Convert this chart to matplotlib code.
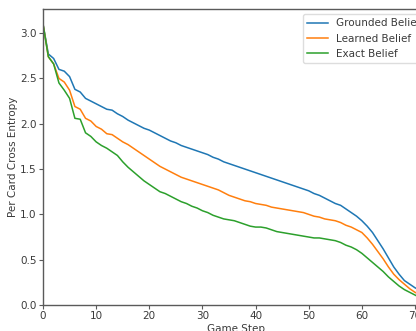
import matplotlib
matplotlib.use("Agg")
import matplotlib.pyplot as plt
import numpy as np

steps = np.arange(0, 73)

grounded = [3.10, 2.77, 2.72, 2.60, 2.58, 2.52, 2.38, 2.35, 2.28, 2.25,
            2.22, 2.19, 2.16, 2.15, 2.11, 2.08, 2.04, 2.01, 1.98, 1.95,
            1.93, 1.90, 1.87, 1.84, 1.81, 1.79, 1.76, 1.74, 1.72, 1.70,
            1.68, 1.66, 1.63, 1.61, 1.58, 1.56, 1.54, 1.52, 1.50, 1.48,
            1.46, 1.44, 1.42, 1.40, 1.38, 1.36, 1.34, 1.32, 1.30, 1.28,
            1.26, 1.23, 1.21, 1.18, 1.15, 1.12, 1.10, 1.06, 1.02, 0.98,
            0.93, 0.87, 0.80, 0.71, 0.62, 0.52, 0.42, 0.34, 0.27, 0.23,
            0.19, 0.16, 0.13]

learned = [3.10, 2.74, 2.66, 2.50, 2.46, 2.37, 2.19, 2.16, 2.06, 2.03,
           1.97, 1.94, 1.89, 1.88, 1.84, 1.80, 1.77, 1.73, 1.69, 1.65,
           1.61, 1.57, 1.53, 1.50, 1.47, 1.44, 1.41, 1.39, 1.37, 1.35,
           1.33, 1.31, 1.29, 1.27, 1.24, 1.21, 1.19, 1.17, 1.15, 1.14,
           1.12, 1.11, 1.10, 1.08, 1.07, 1.06, 1.05, 1.04, 1.03, 1.02,
           1.00, 0.98, 0.97, 0.95, 0.94, 0.93, 0.91, 0.88, 0.86, 0.83,
           0.80, 0.74, 0.67, 0.59, 0.51, 0.42, 0.34, 0.28, 0.23, 0.18,
           0.14, 0.11, 0.09]

exact = [3.10, 2.74, 2.66, 2.45, 2.37, 2.28, 2.06, 2.05, 1.90, 1.86,
         1.80, 1.76, 1.73, 1.69, 1.65, 1.58, 1.52, 1.47, 1.42, 1.37,
         1.33, 1.29, 1.25, 1.23, 1.20, 1.17, 1.14, 1.12, 1.09, 1.07,
         1.04, 1.02, 0.99, 0.97, 0.95, 0.94, 0.93, 0.91, 0.89, 0.87,
         0.86, 0.86, 0.85, 0.83, 0.81, 0.80, 0.79, 0.78, 0.77, 0.76,
         0.75, 0.74, 0.74, 0.73, 0.72, 0.71, 0.69, 0.66, 0.64, 0.61,
         0.57, 0.52, 0.47, 0.42, 0.37, 0.31, 0.26, 0.21, 0.17, 0.14,
         0.11, 0.08, 0.06]

text_color = '#3a3a3a'
spine_color = '#5a5a5a'
fs = 7.5

fig = plt.figure(figsize=(4.16, 3.31), dpi=100)
# axes runs past the right edge, as in the cropped original
ax = fig.add_axes([0.1034, 0.0785, 0.93, 0.894])

ax.plot(steps, grounded, color='#1f77b4', linewidth=1.1, label='Grounded Belief')
ax.plot(steps, learned, color='#ff7f0e', linewidth=1.1, label='Learned Belief')
ax.plot(steps, exact, color='#2ca02c', linewidth=1.1, label='Exact Belief')

ax.set_xlim(0, 72.8)
ax.set_ylim(0, 3.265)
ax.set_xticks(np.arange(0, 71, 10))
ax.set_yticks(np.arange(0, 3.01, 0.5))

ax.set_xlabel('Game Step', fontsize=fs, color=text_color, labelpad=2)
ax.set_ylabel('Per Card Cross Entropy', fontsize=fs, color=text_color, labelpad=1.5)
ax.tick_params(labelsize=fs, colors=spine_color, labelcolor=text_color,
               length=3, width=0.8, pad=1.5)
for s in ax.spines.values():
    s.set_color(spine_color)
    s.set_linewidth(1.0)

leg = ax.legend(loc='upper right', fontsize=fs, borderaxespad=0.5, framealpha=1,
                handlelength=2.0)
leg.get_frame().set_edgecolor('#dddddd')
for t in leg.get_texts():
    t.set_color(text_color)

fig.savefig('out.png', dpi=100)
